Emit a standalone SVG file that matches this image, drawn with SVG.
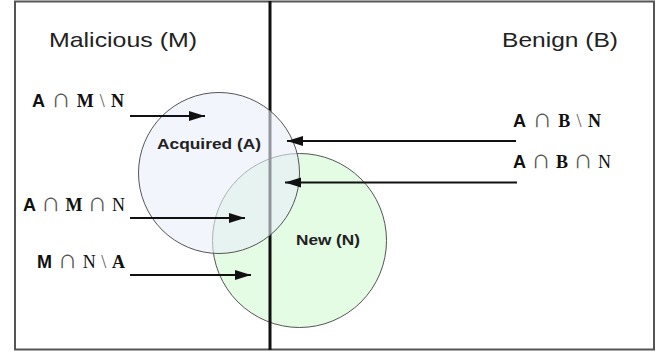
<svg xmlns="http://www.w3.org/2000/svg" width="662" height="352" viewBox="0 0 662 352">
  <defs>
    <marker id="head" markerUnits="userSpaceOnUse" markerWidth="17" markerHeight="11" refX="16" refY="5" orient="auto">
      <path d="M0,0 L16,5 L0,10 z" fill="#111"/>
    </marker>
    <style>
      .frame { fill: #fff; stroke: #555; stroke-width: 2; }
      .divider { stroke: #111; stroke-width: 3; }
      .setA { fill: #e9eef9; fill-opacity: 0.6; stroke: #555; stroke-width: 1; }
      .setN { fill: #e4fbe4; stroke: #555; stroke-width: 1; }
      .head { font-family: "Liberation Sans", Arial, sans-serif; font-size: 21px; fill: #222; }
      .name { font-family: "Liberation Sans", Arial, sans-serif; font-size: 15.5px; font-weight: bold; fill: #222; }
      .lbl { font-family: "Liberation Sans", Arial, sans-serif; font-size: 18px; fill: #111; }
      .sa { font-family: "Liberation Sans", Arial, sans-serif; font-weight: bold; }
      .sb { font-family: "Liberation Serif", "Times New Roman", serif; font-weight: bold; }
      .sn { font-family: "Liberation Serif", "Times New Roman", serif; }
      .op { font-family: "DejaVu Sans", sans-serif; font-weight: 200; fill: #555; font-size: 27px; }
      .bs { font-family: "Liberation Serif", serif; fill: #555; }
      .arrow { stroke: #111; stroke-width: 2; fill: none; marker-end: url(#head); }
    </style>
  </defs>

  <!-- universe frame -->
  <rect class="frame" x="15" y="1.5" width="639" height="348"/>

  <!-- set N sits under the divider, set A over it -->
  <g id="node-new">
    <circle class="setN" cx="299.5" cy="240.5" r="87"/>
  </g>
  <line class="divider" x1="270" y1="1" x2="270" y2="350"/>
  <g id="node-acquired">
    <circle class="setA" cx="219" cy="173" r="80.5"/>
  </g>

  <g id="node-malicious">
    <text class="head" x="49" y="47" textLength="148" lengthAdjust="spacingAndGlyphs">Malicious (M)</text>
  </g>
  <g id="node-benign">
    <text class="head" x="502" y="47" textLength="116" lengthAdjust="spacingAndGlyphs">Benign (B)</text>
  </g>
  <g id="label-acquired">
    <text class="name" x="157" y="148.5" textLength="104" lengthAdjust="spacingAndGlyphs">Acquired (A)</text>
  </g>
  <g id="label-new">
    <text class="name" x="296" y="244.5" textLength="64" lengthAdjust="spacingAndGlyphs">New (N)</text>
  </g>

  <!-- region labels -->
  <g id="label-amn">
    <text class="lbl" x="32" y="107" textLength="92"><tspan class="sa">A</tspan> <tspan class="op">∩</tspan> <tspan class="sb">M</tspan> <tspan class="bs">\</tspan> <tspan class="sb">N</tspan></text>
  </g>
  <g id="label-abn">
    <text class="lbl" x="513" y="127" textLength="88"><tspan class="sa">A</tspan> <tspan class="op">∩</tspan> <tspan class="sb">B</tspan> <tspan class="bs">\</tspan> <tspan class="sb">N</tspan></text>
  </g>
  <g id="label-abnn">
    <text class="lbl" x="513" y="168" textLength="98"><tspan class="sa">A</tspan> <tspan class="op">∩</tspan> <tspan class="sb">B</tspan> <tspan class="op">∩</tspan> <tspan class="sn">N</tspan></text>
  </g>
  <g id="label-amnn">
    <text class="lbl" x="23" y="211" textLength="102"><tspan class="sa">A</tspan> <tspan class="op">∩</tspan> <tspan class="sb">M</tspan> <tspan class="op">∩</tspan> <tspan class="sn">N</tspan></text>
  </g>
  <g id="label-mna">
    <text class="lbl" x="37" y="268" textLength="88"><tspan class="sa">M</tspan> <tspan class="op">∩</tspan> <tspan class="sn">N</tspan> <tspan class="bs">\</tspan> <tspan class="sb">A</tspan></text>
  </g>

  <!-- pointers into the regions -->
  <g id="connectors">
    <line class="arrow" x1="130" y1="116" x2="205" y2="116"/>
    <line class="arrow" x1="516" y1="141" x2="287" y2="141"/>
    <line class="arrow" x1="517" y1="182.5" x2="285" y2="182.5"/>
    <line class="arrow" x1="130" y1="218" x2="245" y2="218"/>
    <line class="arrow" x1="130" y1="275" x2="251" y2="275"/>
  </g>
</svg>
